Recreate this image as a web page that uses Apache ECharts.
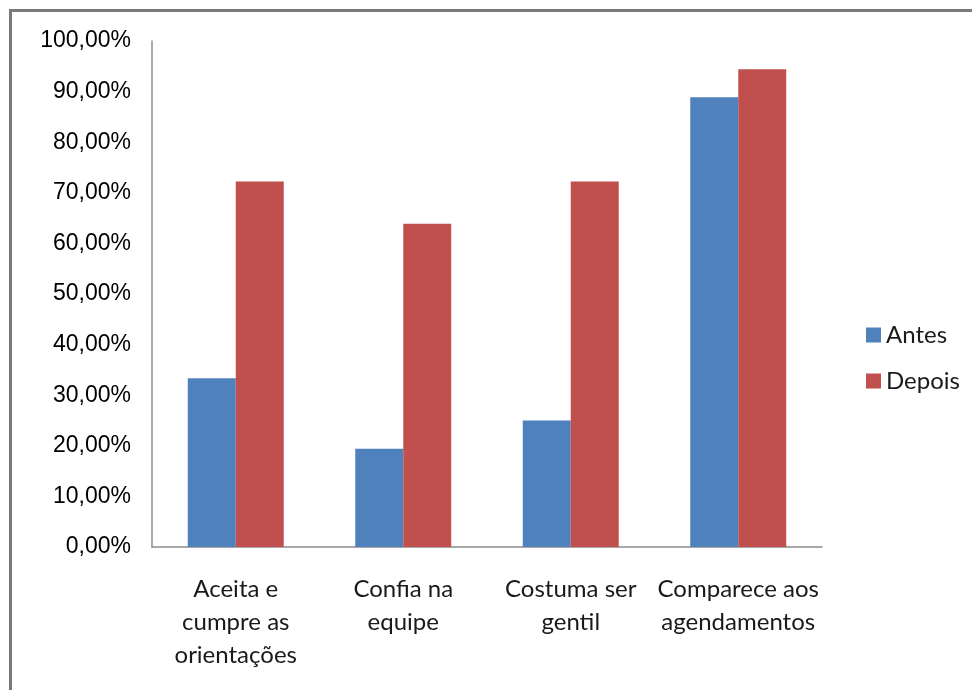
<!DOCTYPE html>
<html>
<head>
<meta charset="utf-8">
<script src="https://cdn.jsdelivr.net/npm/echarts@6/dist/echarts.min.js"></script>
<style>
  html, body { margin: 0; padding: 0; background: #ffffff; }
  #chart { width: 972px; height: 690px; }
</style>
</head>
<body>
<div id="chart"></div>
<script>
// Categories and percentages for each group
const categories = ['Aceita e\ncumpre as\norientações', 'Confia na\nequipe', 'Costuma ser\ngentil', 'Comparece aos\nagendamentos'];
const antes = [33.33, 19.44, 25.00, 88.89];
const depois = [72.22, 63.89, 72.22, 94.44];
const seriesNames = ['Antes', 'Depois'];

const chart = echarts.init(document.getElementById('chart'));

const fmt = v => v.toFixed(2).replace('.', ',') + '%';

chart.setOption({
  animation: false,
  backgroundColor: '#ffffff',
  graphic: [
    { type: 'rect', shape: { x: 9, y: 9, width: 963, height: 3 }, style: { fill: '#7a7a7a' } },
    { type: 'rect', shape: { x: 9, y: 9, width: 3, height: 681 }, style: { fill: '#7a7a7a' } }
  ],
  grid: { left: 152, right: 150, top: 41, bottom: 143 },
  legend: {
    orient: 'vertical',
    left: 861,
    top: 318,
    itemWidth: 15,
    itemHeight: 15,
    itemGap: 22,
    icon: 'rect',
    textStyle: { fontFamily: 'Lato', fontSize: 24, color: '#1a1a1a', padding: [0, 0, 0, 0] },
    data: seriesNames
  },
  xAxis: {
    type: 'category',
    data: categories,
    axisLine: { lineStyle: { color: '#8c8c8c', width: 1.5 } },
    axisTick: { show: false },
    axisLabel: {
      fontFamily: 'Lato',
      fontSize: 24,
      color: '#1a1a1a',
      lineHeight: 33,
      margin: 26,
      interval: 0
    }
  },
  yAxis: {
    type: 'value',
    min: 0,
    max: 100,
    interval: 10,
    splitLine: { show: false },
    axisLine: { show: true, lineStyle: { color: '#8c8c8c', width: 1.5 } },
    axisTick: { show: false },
    axisLabel: {
      fontFamily: 'Liberation Sans',
      fontSize: 23,
      color: '#000000',
      margin: 21,
      formatter: fmt
    }
  },
  series: [
    {
      name: seriesNames[0],
      type: 'bar',
      data: antes,
      barGap: '0%',
      barCategoryGap: '42.7%',
      itemStyle: { color: '#4F81BD' }
    },
    {
      name: seriesNames[1],
      type: 'bar',
      data: depois,
      barGap: '0%',
      barCategoryGap: '42.7%',
      itemStyle: { color: '#C0504D' }
    }
  ]
});
</script>
</body>
</html>
